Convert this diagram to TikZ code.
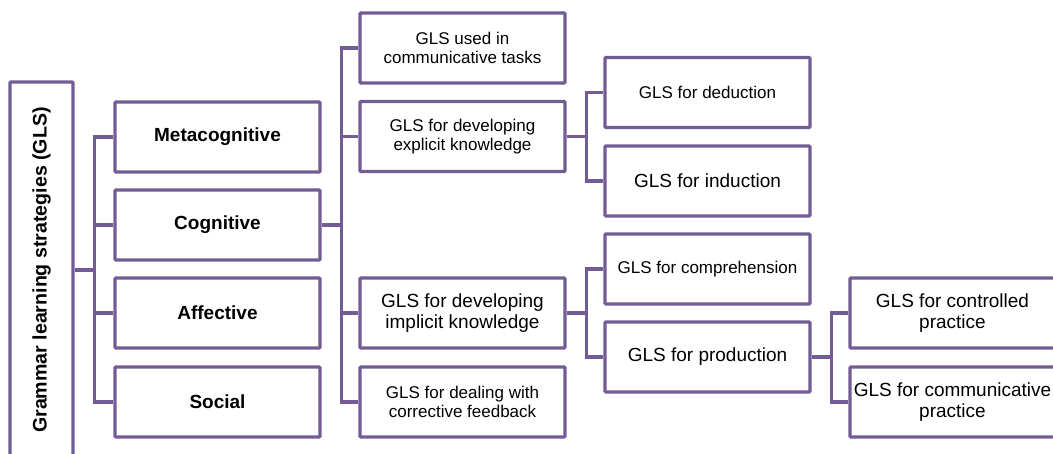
\documentclass[tikz,border=0pt]{standalone}
\usepackage{fontspec}
\setmainfont{Liberation Sans}
\definecolor{strat}{RGB}{115,92,150}

\begin{document}
\begin{tikzpicture}[x = 1pt, y = -1pt]
\tikzstyle{every node} = [draw = strat, line width = 3.4pt, fill = white, rounded corners = 1pt, minimum width = 205pt, minimum height = 70pt, align = center, inner sep = 0pt]
\tikzstyle{smalltext} = [font = \fontsize{17}{19.5}\selectfont]
\tikzstyle{largetext} = [font = \fontsize{19}{21.5}\selectfont]
\tikzstyle{headtext} = [font = \fontsize{19}{21.5}\selectfont\bfseries]
\tikzstyle{link} = [draw = strat, line width = 3.4pt]

\useasboundingbox (0, 0) rectangle (1053, 453);
\clip (0, 0) rectangle (1053, 453);

\draw (41.5, 270) node[headtext, font = \fontsize{19.6}{22}\selectfont\bfseries, rotate = 90, minimum width = 376pt, minimum height = 63pt] (0) {Grammar learning strategies (GLS)};

\draw (217.5, 137) node[headtext] (1) {Metacognitive};
\draw (217.5, 225) node[headtext] (2) {Cognitive};
\draw (217.5, 313) node[headtext] (3) {Affective};
\draw (217.5, 402) node[headtext] (4) {Social};

\draw (462.5, 48) node[smalltext] (5) {GLS used in\\communicative tasks};
\draw (462.5, 136.5) node[smalltext] (6) {GLS for developing\\explicit knowledge};
\draw (462.5, 313) node[largetext] (7) {GLS for developing\\implicit knowledge};
\draw (462.5, 402) node[smalltext] (8) {GLS for dealing with\\corrective feedback};

\draw (707.5, 92.5) node[smalltext] (9) {GLS for deduction};
\draw (707.5, 181) node[largetext] (10) {GLS for induction};
\draw (707.5, 269) node[smalltext] (11) {GLS for comprehension};
\draw (707.5, 357) node[largetext] (12) {GLS for production};

\draw (952.5, 313) node[largetext] (13) {GLS for controlled\\practice};
\draw (952.5, 402) node[largetext] (14) {GLS for communicative\\practice};

% elbows: out 20pt to the bus, then down/up and across
\foreach \n in {1, 2, 3, 4}
  \draw[link] (0.south) --++ (20, 0) |- (\n.west);
\foreach \n in {5, 6, 7, 8}
  \draw[link] (2.east) --++ (20, 0) |- (\n.west);
\foreach \n in {9, 10}
  \draw[link] (6.east) --++ (20, 0) |- (\n.west);
\foreach \n in {11, 12}
  \draw[link] (7.east) --++ (20, 0) |- (\n.west);
\foreach \n in {13, 14}
  \draw[link] (12.east) --++ (20, 0) |- (\n.west);
\end{tikzpicture}
\end{document}
